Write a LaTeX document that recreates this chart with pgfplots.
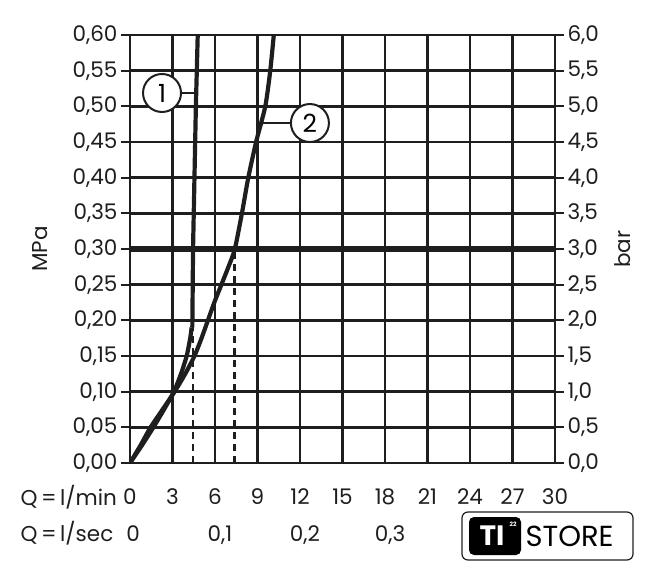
\documentclass[border=0pt]{standalone}
\usepackage{fontspec}
\setmainfont{Poppins}
\usepackage{pgfplots}
\pgfplotsset{compat=1.18}
\definecolor{ink}{HTML}{1E1E1E}
\newcommand{\tfont}{\fontsize{21.5}{24}\selectfont}
\pgfplotsset{
  /pgf/number format/assume math mode=true,
  every tick label/.append style={font=\tfont, text=ink},
}
\begin{document}
\begin{tikzpicture}[x=1pt,y=1pt]
\useasboundingbox (0,0) rectangle (656,571);
\begin{axis}[
  at={(130pt,108pt)}, anchor=south west,
  width=425pt, height=428pt, scale only axis,
  xmin=0, xmax=30, ymin=0, ymax=0.6,
  xtick={0,3,6,9,12,15,18,21,24,27,30},
  ytick={0,0.05,0.1,0.15,0.2,0.25,0.3,0.35,0.4,0.45,0.5,0.55,0.6},
  grid=major, major grid style={line width=2.7pt, draw=ink},
  axis line style={line width=2.8pt, draw=ink},
  tick align=outside, ytick pos=left, xtick pos=bottom,
  major tick length=9pt,
  x tick style={draw=none},
  y tick style={line width=2.2pt, draw=ink},
  yticklabel style={/pgf/number format/.cd, use comma, fixed, fixed zerofill, precision=2},
  xticklabel style={yshift=-13pt},
  ylabel={MPa},
  ylabel style={at={(axis description cs:-0.212,0.5)}, anchor=center, font=\tfont, text=ink},
]
\addplot[line width=6.5pt, ink] coordinates {(0,0.3) (30,0.3)};
\addplot[line width=2.8pt, ink, dash pattern=on 7pt off 5pt] coordinates {(4.45,0) (4.45,0.19)};
\addplot[line width=2.8pt, ink, dash pattern=on 7pt off 5pt] coordinates {(7.4,0) (7.4,0.3)};
% curve 1
\addplot[line width=4.2pt, ink, smooth, tension=0.4] coordinates {
 (0,0) (0.85,0.025) (1.65,0.05) (2.4,0.075) (3.1,0.1) (3.6,0.125) (4.0,0.15) (4.25,0.175) (4.35,0.19)};
\addplot[line width=4.2pt, ink] coordinates {(4.4,0.19) (4.45,0.3) (4.55,0.4) (4.65,0.5) (4.78,0.6)};
% curve 2
\addplot[line width=4.2pt, ink, smooth, tension=0.4] coordinates {
 (0,0) (0.75,0.025) (1.45,0.05) (2.3,0.075) (3.15,0.1) (3.9,0.125) (4.55,0.15) (5.05,0.175) (5.5,0.2)
 (5.95,0.225) (6.45,0.25) (6.95,0.275) (7.4,0.3) (7.9,0.35) (8.35,0.4) (8.9,0.45) (9.55,0.5) (9.9,0.55) (10.15,0.6)};
% labels
\addplot[line width=2pt, ink] coordinates {(3.0,0.5187) (4.66,0.5187)};
\addplot[line width=2pt, ink] coordinates {(9.3,0.4766) (11.5,0.4766)};
\node[circle, draw=ink, fill=white, line width=2pt, minimum size=38pt, inner sep=0pt, font=\fontsize{25}{27}\selectfont]
  at (axis cs:2.26,0.5187) {1};
\node[circle, draw=ink, fill=white, line width=2pt, minimum size=38pt, inner sep=0pt, font=\fontsize{25}{27}\selectfont]
  at (axis cs:12.7,0.4766) {2};
\end{axis}
\begin{axis}[
  at={(130pt,108pt)}, anchor=south west,
  width=425pt, height=428pt, scale only axis,
  xmin=0, xmax=30, ymin=0, ymax=6,
  axis x line=none, axis y line*=right,
  ytick={0,0.5,1,1.5,2,2.5,3,3.5,4,4.5,5,5.5,6},
  axis line style={line width=2.8pt, draw=ink},
  tick align=outside, major tick length=9pt,
  y tick style={line width=2.2pt, draw=ink},
  yticklabel style={/pgf/number format/.cd, use comma, fixed, fixed zerofill, precision=1},
  ylabel={bar},
  ylabel style={at={(axis description cs:1.158,0.5)}, anchor=center, rotate=0, font=\tfont, text=ink},
]
\end{axis}
% bottom rows
\node[anchor=base west, font=\tfont, text=ink] at (17,66) {Q\,=\,l/min};
\node[anchor=base west, font=\tfont, text=ink] at (17,30) {Q\,=\,l/sec};
\node[anchor=base, font=\tfont, text=ink] at (133,30) {0};
\node[anchor=base, font=\tfont, text=ink] at (220,30) {0,1};
\node[anchor=base, font=\tfont, text=ink] at (305,30) {0,2};
\node[anchor=base, font=\tfont, text=ink] at (390,30) {0,3};
% logo
\draw[ink, line width=1.2pt, rounded corners=6pt] (462,11) rectangle (633,59);
\fill[black, rounded corners=5pt] (469,16) rectangle (521,54);
\node[text=white, font=\fontsize{28}{30}\selectfont\bfseries] at (492,35) {TI};
\node[text=white, font=\fontsize{6}{7}\selectfont\bfseries] at (513,47) {22};
\node[anchor=west, text=black, font=\fontsize{29}{32}\selectfont] at (522,35) {STORE};
\end{tikzpicture}
\end{document}
